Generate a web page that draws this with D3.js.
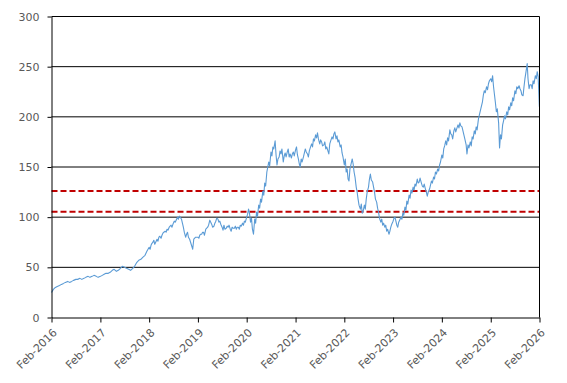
<!DOCTYPE html>
<html><head><meta charset="utf-8">
<script src="https://cdn.jsdelivr.net/npm/d3@7"></script>
<style>
body{margin:0;background:#fff;}
text{font-family:"DejaVu Sans",Verdana,sans-serif;}
</style>
</head><body>
<svg id="chart" width="567" height="383"></svg>
<script>
const priceRows = [
["2016-02-01",25],["2016-02-15",28],["2016-03-01",30],["2016-03-15",31],["2016-04-01",32],["2016-04-15",33],["2016-05-01",34],["2016-05-15",35],["2016-06-01",36],["2016-06-15",35],["2016-07-01",36],["2016-07-15",37],["2016-08-01",38],["2016-08-15",38],["2016-09-01",39],["2016-09-15",38],["2016-10-01",39],["2016-10-15",40],["2016-11-01",41],["2016-11-15",40],["2016-12-01",41],["2016-12-15",42],["2017-01-01",41],["2017-01-15",40],
["2017-02-01",41],["2017-02-15",42],["2017-03-01",43],["2017-03-15",44],["2017-04-01",44],["2017-04-15",45],["2017-05-01",47],["2017-05-15",48],["2017-06-01",46],["2017-06-15",47],["2017-07-01",49],["2017-07-15",51],["2017-08-01",50],["2017-08-15",49],["2017-09-01",48],["2017-09-15",47],["2017-10-01",49],["2017-10-15",51],["2017-11-01",55],["2017-11-15",57],["2017-12-01",58],["2017-12-15",60],["2018-01-01",62],["2018-01-15",66],
["2018-02-01",70],["2018-02-08",68],["2018-02-15",72],["2018-02-22",74],["2018-03-01",75],["2018-03-08",77],["2018-03-15",73],["2018-03-22",75],["2018-04-01",78],["2018-04-08",76],["2018-04-15",80],["2018-04-22",81],["2018-05-01",79],["2018-05-08",82],["2018-05-15",84],["2018-05-22",85],["2018-06-01",86],["2018-06-08",85],["2018-06-15",88],["2018-06-22",87],["2018-07-01",90],["2018-07-08",91],["2018-07-15",92],["2018-07-22",90],["2018-08-01",94],["2018-08-08",96],["2018-08-15",95],["2018-08-22",97],["2018-09-01",100],["2018-09-08",98],["2018-09-15",101],["2018-09-22",100],["2018-10-01",98],["2018-10-08",94],["2018-10-15",90],["2018-10-22",85],["2018-11-01",80],["2018-11-08",83],["2018-11-15",85],["2018-11-22",80],["2018-12-01",78],["2018-12-15",72],["2018-12-24",68],["2019-01-01",78],["2019-01-15",80],
["2019-02-01",80],["2019-02-08",79],["2019-02-15",82],["2019-02-22",83],["2019-03-01",83],["2019-03-08",85],["2019-03-15",85],["2019-03-22",82],["2019-04-01",88],["2019-04-08",89],["2019-04-15",90],["2019-04-22",92],["2019-05-01",97],["2019-05-08",95],["2019-05-15",93],["2019-05-22",90],["2019-06-01",91],["2019-06-08",94],["2019-06-15",96],["2019-06-22",99],["2019-07-01",98],["2019-07-08",95],["2019-07-15",96],["2019-07-22",93],["2019-08-01",90],["2019-08-08",87],["2019-08-15",92],["2019-08-22",88],["2019-09-01",89],["2019-09-08",91],["2019-09-15",90],["2019-09-22",92],["2019-10-01",88],["2019-10-08",86],["2019-10-15",90],["2019-10-22",89],["2019-11-01",89],["2019-11-08",91],["2019-11-15",88],["2019-11-22",90],["2019-12-01",90],["2019-12-08",88],["2019-12-15",92],["2019-12-22",91],["2020-01-01",94],["2020-01-08",92],["2020-01-15",96],["2020-01-22",95],
["2020-02-01",100],["2020-02-08",103],["2020-02-15",108],["2020-02-22",104],["2020-03-01",95],["2020-03-08",99],["2020-03-15",88],["2020-03-23",83],["2020-04-01",98],["2020-04-08",94],["2020-04-15",105],["2020-04-22",101],["2020-05-01",112],["2020-05-08",109],["2020-05-15",118],["2020-05-22",115],["2020-06-01",126],["2020-06-08",122],["2020-06-15",134],["2020-06-22",131],["2020-07-01",145],["2020-07-08",150],["2020-07-15",155],["2020-07-22",151],["2020-08-01",165],["2020-08-08",161],["2020-08-15",170],["2020-08-22",168],["2020-09-01",176],["2020-09-08",162],["2020-09-15",152],["2020-09-22",158],["2020-10-01",160],["2020-10-08",166],["2020-10-15",163],["2020-10-22",168],["2020-11-01",155],["2020-11-08",161],["2020-11-15",164],["2020-11-22",160],["2020-12-01",165],["2020-12-08",168],["2020-12-15",160],["2020-12-22",163],["2021-01-01",159],["2021-01-08",163],["2021-01-15",165],["2021-01-22",161],
["2021-02-01",167],["2021-02-08",170],["2021-02-15",162],["2021-02-22",158],["2021-03-01",153],["2021-03-08",150],["2021-03-15",158],["2021-03-22",155],["2021-04-01",160],["2021-04-08",164],["2021-04-15",168],["2021-04-22",165],["2021-05-01",163],["2021-05-08",160],["2021-05-15",166],["2021-05-22",169],["2021-06-01",173],["2021-06-08",170],["2021-06-15",178],["2021-06-22",176],["2021-07-01",182],["2021-07-08",179],["2021-07-15",184],["2021-07-22",178],["2021-08-01",173],["2021-08-08",177],["2021-08-15",175],["2021-08-22",171],["2021-09-01",172],["2021-09-08",175],["2021-09-15",168],["2021-09-22",170],["2021-10-01",166],["2021-10-08",163],["2021-10-15",173],["2021-10-22",176],["2021-11-01",180],["2021-11-08",178],["2021-11-15",183],["2021-11-22",185],["2021-12-01",178],["2021-12-08",181],["2021-12-15",175],["2021-12-22",177],["2022-01-01",170],["2022-01-08",172],["2022-01-15",164],["2022-01-22",160],
["2022-02-01",152],["2022-02-08",158],["2022-02-15",145],["2022-02-22",148],["2022-03-01",138],["2022-03-08",136],["2022-03-15",148],["2022-03-22",152],["2022-04-01",158],["2022-04-08",153],["2022-04-15",145],["2022-04-22",140],["2022-05-01",130],["2022-05-08",125],["2022-05-15",118],["2022-05-22",112],["2022-06-01",108],["2022-06-08",113],["2022-06-15",104],["2022-06-22",106],["2022-07-01",112],["2022-07-08",108],["2022-07-15",118],["2022-07-22",125],["2022-08-01",130],["2022-08-08",138],["2022-08-15",143],["2022-08-22",137],["2022-09-01",135],["2022-09-08",130],["2022-09-15",125],["2022-09-22",118],["2022-10-01",115],["2022-10-08",109],["2022-10-15",105],["2022-10-22",99],["2022-11-01",95],["2022-11-08",98],["2022-11-15",92],["2022-11-22",94],["2022-12-01",90],["2022-12-08",92],["2022-12-15",86],["2022-12-22",88],["2023-01-01",83],["2023-01-08",86],["2023-01-15",90],["2023-01-22",93],
["2023-02-01",96],["2023-02-08",99],["2023-02-15",100],["2023-02-22",96],["2023-03-01",92],["2023-03-08",90],["2023-03-15",95],["2023-03-22",97],["2023-04-01",100],["2023-04-08",98],["2023-04-15",104],["2023-04-22",102],["2023-05-01",110],["2023-05-08",107],["2023-05-15",116],["2023-05-22",113],["2023-06-01",122],["2023-06-08",119],["2023-06-15",127],["2023-06-22",124],["2023-07-01",130],["2023-07-08",127],["2023-07-15",133],["2023-07-22",131],["2023-08-01",138],["2023-08-08",134],["2023-08-15",135],["2023-08-22",139],["2023-09-01",134],["2023-09-08",131],["2023-09-15",130],["2023-09-22",133],["2023-10-01",128],["2023-10-08",125],["2023-10-15",121],["2023-10-22",125],["2023-11-01",128],["2023-11-08",132],["2023-11-15",136],["2023-11-22",134],["2023-12-01",140],["2023-12-08",138],["2023-12-15",145],["2023-12-22",143],["2024-01-01",148],["2024-01-08",146],["2024-01-15",152],["2024-01-22",155],
["2024-02-01",162],["2024-02-08",159],["2024-02-15",168],["2024-02-22",171],["2024-03-01",176],["2024-03-08",172],["2024-03-15",179],["2024-03-22",176],["2024-04-01",187],["2024-04-08",183],["2024-04-15",182],["2024-04-22",178],["2024-05-01",186],["2024-05-08",189],["2024-05-15",185],["2024-05-22",188],["2024-06-01",192],["2024-06-08",189],["2024-06-15",194],["2024-06-22",191],["2024-07-01",190],["2024-07-08",186],["2024-07-15",182],["2024-07-22",178],["2024-08-01",172],["2024-08-07",163],["2024-08-15",172],["2024-08-22",169],["2024-09-01",175],["2024-09-08",171],["2024-09-15",180],["2024-09-22",178],["2024-10-01",186],["2024-10-08",183],["2024-10-15",190],["2024-10-22",187],["2024-11-01",198],["2024-11-08",202],["2024-11-15",206],["2024-11-22",210],["2024-12-01",215],["2024-12-08",222],["2024-12-15",226],["2024-12-22",224],["2025-01-01",230],["2025-01-08",227],["2025-01-15",233],["2025-01-22",236],
["2025-02-01",238],["2025-02-08",235],["2025-02-15",241],["2025-02-22",230],["2025-03-01",222],["2025-03-08",214],["2025-03-15",205],["2025-03-22",208],["2025-04-01",194],["2025-04-08",169],["2025-04-15",182],["2025-04-22",178],["2025-05-01",192],["2025-05-08",196],["2025-05-15",201],["2025-05-22",198],["2025-06-01",205],["2025-06-08",202],["2025-06-15",210],["2025-06-22",207],["2025-07-01",214],["2025-07-08",211],["2025-07-15",219],["2025-07-22",216],["2025-08-01",226],["2025-08-08",223],["2025-08-15",230],["2025-08-22",228],["2025-09-01",231],["2025-09-08",228],["2025-09-15",226],["2025-09-22",222],["2025-10-01",221],["2025-10-08",230],["2025-10-15",238],["2025-10-22",244],["2025-11-01",253],["2025-11-07",238],["2025-11-15",228],["2025-11-22",232],["2025-12-01",232],["2025-12-08",228],["2025-12-15",236],["2025-12-22",233],["2026-01-01",241],["2026-01-08",238],["2026-01-15",245],["2026-01-22",240],["2026-01-31",210]
];
const yTickValues = [0, 50, 100, 150, 200, 250, 300];
const xTickYears = [2016, 2017, 2018, 2019, 2020, 2021, 2022, 2023, 2024, 2025, 2026];
const refLevels = [126, 105.5];

const parse = d3.timeParse("%Y-%m-%d");
const data = priceRows.map(r => ({date: parse(r[0]), value: r[1]}));
const xTicks = xTickYears.map(yr => new Date(yr, 1, 1));

const svg = d3.select("#chart");
const x = d3.scaleTime().domain([xTicks[0], xTicks[xTicks.length - 1]]).range([51.5, 539.5]);
const y = d3.scaleLinear().domain([0, 300]).range([317.5, 16.5]);
const [x0, x1] = x.range();

svg.append("g").selectAll("line")
  .data(yTickValues.filter(v => v > 0))
  .join("line")
  .attr("x1", x0).attr("x2", x1)
  .attr("y1", d => y(d)).attr("y2", d => y(d))
  .attr("stroke", "#000").attr("stroke-width", 1);

svg.append("g").selectAll("line")
  .data(refLevels)
  .join("line")
  .attr("x1", x0).attr("x2", x1)
  .attr("y1", d => y(d)).attr("y2", d => y(d))
  .attr("stroke", "#c00000").attr("stroke-width", 2)
  .attr("stroke-dasharray", "6,3");

svg.append("path")
  .datum(data)
  .attr("fill", "none")
  .attr("stroke", "#5b9bd5")
  .attr("stroke-width", 1.1)
  .attr("stroke-linejoin", "round")
  .attr("d", d3.line().x(d => x(d.date)).y(d => y(d.value)));

svg.append("line")
  .attr("x1", x1).attr("x2", x1)
  .attr("y1", y(300)).attr("y2", y(0))
  .attr("stroke", "#000").attr("stroke-width", 1);

const yAxis = svg.append("g")
  .attr("transform", `translate(${x0},0)`)
  .call(d3.axisLeft(y).tickValues(yTickValues).tickSize(4).tickPadding(8).tickSizeOuter(0));
yAxis.select(".domain").attr("stroke", "#000");
yAxis.selectAll(".tick line").attr("stroke", "#000");
yAxis.selectAll("text").attr("fill", "#595959").style("font-size", "11px")
  .style("font-family", "'DejaVu Sans', Verdana, sans-serif");

const xAxis = svg.append("g")
  .attr("transform", `translate(0,${y(0)})`)
  .call(d3.axisBottom(x).tickValues(xTicks).tickSize(5).tickSizeOuter(0)
    .tickFormat(d3.timeFormat("%b-%Y")));
xAxis.select(".domain").attr("stroke", "#000");
xAxis.selectAll(".tick line").attr("stroke", "#000");
xAxis.selectAll("text")
  .attr("fill", "#595959")
  .style("font-size", "11px")
  .style("font-family", "'DejaVu Sans', Verdana, sans-serif")
  .attr("text-anchor", "end")
  .attr("x", 0).attr("y", 0).attr("dy", "0.35em")
  .attr("transform", "translate(3,13) rotate(-45)");
</script>
</body></html>
